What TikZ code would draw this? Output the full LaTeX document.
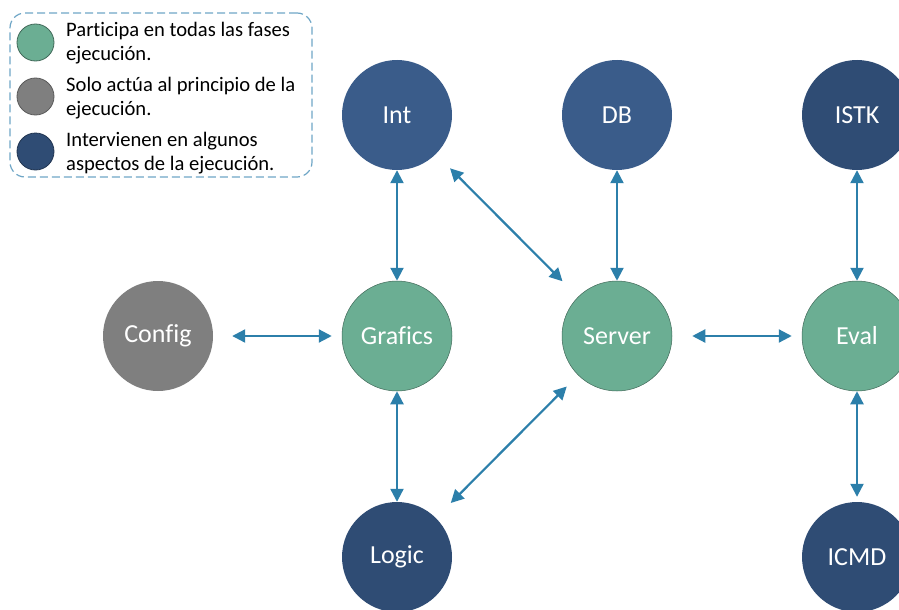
\documentclass[tikz,border=0pt]{standalone}
\usepackage{fontspec}
\setmainfont{Carlito}[Ligatures={NoCommon}]
\usetikzlibrary{arrows.meta}
\definecolor{cgreen}{HTML}{6BAE93}
\definecolor{cgray}{HTML}{7F7F7F}
\definecolor{cblue}{HTML}{3A5C8A}
\definecolor{cdark}{HTML}{2F4C74}
\definecolor{carrow}{HTML}{2C7FAA}
\definecolor{cdash}{HTML}{6FA6C6}
\tikzset{
  bignode/.style={circle, minimum size=110pt, inner sep=0pt, text=white,
    font=\fontsize{26}{30}\selectfont},
  greennode/.style={bignode, fill=cgreen, draw=cgreen!60!black, line width=0.5pt},
  graynode/.style={bignode, fill=cgray},
  bluenode/.style={bignode, fill=cblue},
  darknode/.style={bignode, fill=cdark},
  link/.style={draw=carrow, line width=2.2pt, {Triangle[length=13pt,width=13pt]}-{Triangle[length=13pt,width=13pt]}},
  legdot/.style={circle, minimum size=37pt, inner sep=0pt, line width=0.8pt},
  legtext/.style={anchor=west, align=left, inner sep=0pt, font=\fontsize{20.6}{24}\selectfont},
}
\begin{document}
\begin{tikzpicture}[x=1pt,y=-1pt]
\useasboundingbox (0,0) rectangle (899,610);
% legend
\node[draw=cdash, line width=1.2pt, dash pattern=on 8pt off 4pt, rounded corners=15pt,
  minimum width=302pt, minimum height=164pt, inner sep=0pt] (legend) at (161,95) {};
\node[legdot, fill=cgreen, draw=cgreen!60!black] (l1) at (35.5,42.5) {};
\node[legdot, fill=cgray, draw=cgray!70!black] (l2) at (35.5,96.5) {};
\node[legdot, fill=cdark, draw=cdark!70!black] (l3) at (35.5,151.5) {};
\node[legtext] (t1) at (66,43) {Participa en todas las fases\\ejecución.};
\node[legtext] (t2) at (66,98) {Solo actúa al principio de la\\ejecución.};
\node[legtext] (t3) at (66,153) {Intervienen en algunos\\aspectos de la ejecución.};
% nodes
\node[graynode] (config) at (158,336) {Config};
\node[greennode] (grafics) at (397,336) {Grafics};
\node[bluenode] (int) at (397,115) {Int};
\node[darknode] (logic) at (397,557) {Logic};
\node[bluenode] (db) at (617,115) {DB};
\node[greennode] (server) at (617,336) {Server};
\node[darknode] (istk) at (857,115) {ISTK};
\node[greennode] (eval) at (857,336) {Eval};
\node[darknode] (icmd) at (857,557) {ICMD};
% links
\draw[link, shorten <=19pt, shorten >=10pt] (config) -- (grafics);
\draw[link] (int) -- (grafics);
\draw[link] (grafics) -- (logic);
\draw[link, shorten <=20pt, shorten >=22pt] (int) -- (server);
\draw[link, shorten <=21pt, shorten >=16pt] (logic) -- (server);
\draw[link] (db) -- (server);
\draw[link, shorten <=20pt, shorten >=10pt] (server) -- (eval);
\draw[link] (istk) -- (eval);
\draw[link, shorten >=5pt] (eval) -- (icmd);
\end{tikzpicture}
\end{document}
